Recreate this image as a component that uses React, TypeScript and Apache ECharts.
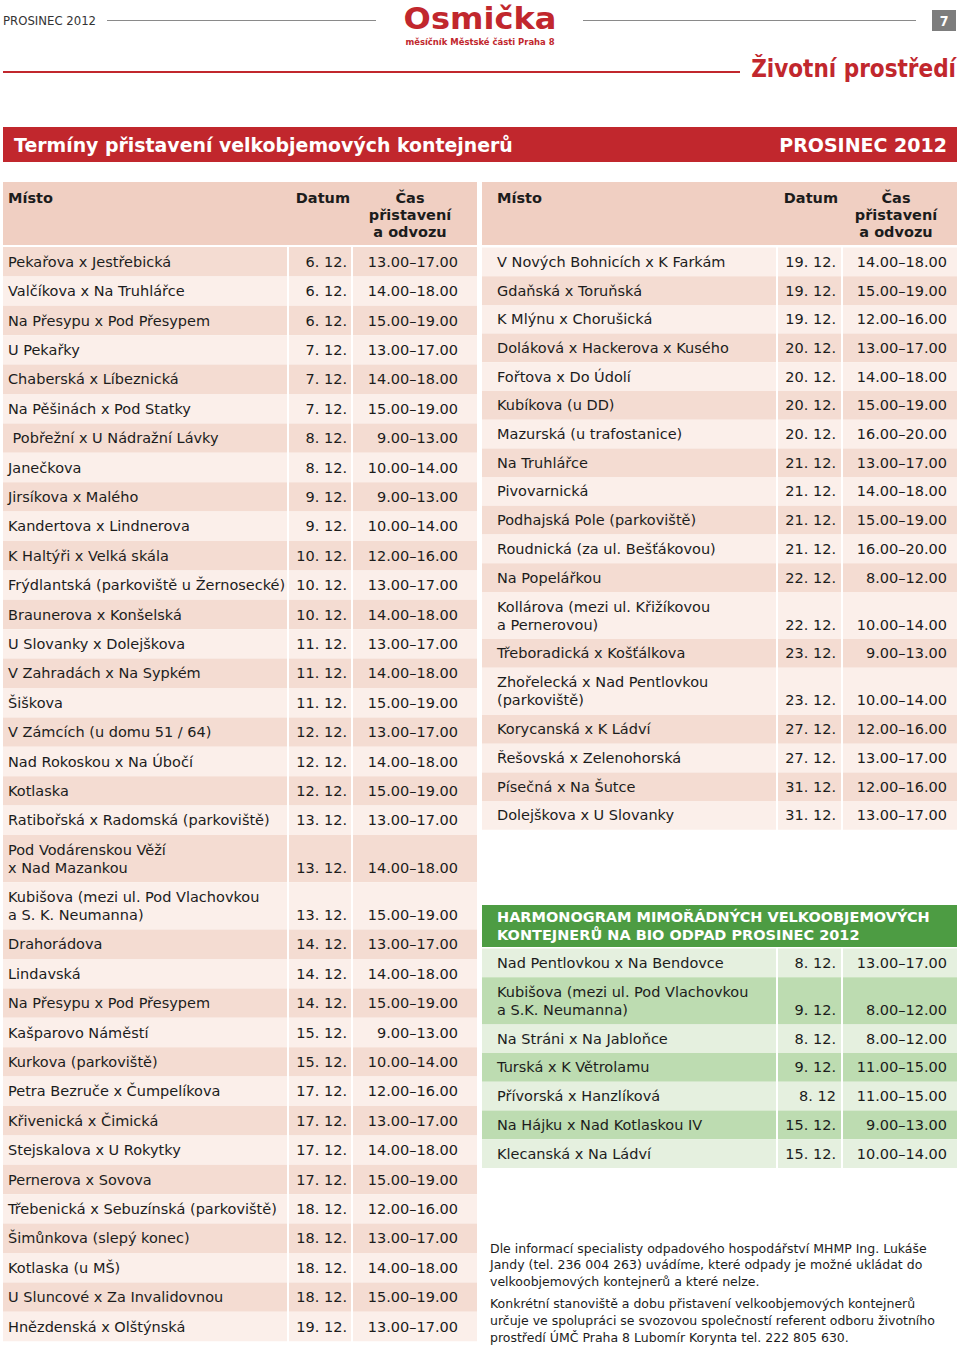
import React, { useEffect, useRef } from "react";
import * as echarts from "echarts";

// ---------- DATA ----------
const pageTitle = "Osmička";
const pageSubtitle = "měsíčník Městské části Praha 8";
const issueLabel = "PROSINEC 2012";
const pageNumber = "7";
const sectionTitle = "Životní prostředí";
const bannerTitle = "Termíny přistavení velkobjemových kontejnerů";
const bannerMonth = "PROSINEC 2012";
const headerPlace = "Místo";
const headerDate = "Datum";
const headerTime = "Čas\npřistavení\na odvozu";

const leftPlaces = [
  "Pekařova x Jestřebická",
  "Valčíkova x Na Truhlářce",
  "Na Přesypu x Pod Přesypem",
  "U Pekařky",
  "Chaberská x Líbeznická",
  "Na Pěšinách x Pod Statky",
  " Pobřežní x U Nádražní Lávky",
  "Janečkova",
  "Jirsíkova x Malého",
  "Kandertova x Lindnerova",
  "K Haltýři x Velká skála",
  "Frýdlantská (parkoviště u Žernosecké)",
  "Braunerova x Konšelská",
  "U Slovanky x Dolejškova",
  "V Zahradách x Na Sypkém",
  "Šiškova",
  "V Zámcích (u domu 51 / 64)",
  "Nad Rokoskou x Na Úbočí",
  "Kotlaska",
  "Ratibořská x Radomská (parkoviště)",
  "Pod Vodárenskou Věží\nx Nad Mazankou",
  "Kubišova (mezi ul. Pod Vlachovkou\na S. K. Neumanna)",
  "Drahorádova",
  "Lindavská",
  "Na Přesypu x Pod Přesypem",
  "Kašparovo Náměstí",
  "Kurkova (parkoviště)",
  "Petra Bezruče x Čumpelíkova",
  "Křivenická x Čimická",
  "Stejskalova x U Rokytky",
  "Pernerova x Sovova",
  "Třebenická x Sebuzínská (parkoviště)",
  "Šimůnkova (slepý konec)",
  "Kotlaska (u MŠ)",
  "U Sluncové x Za Invalidovnou",
  "Hnězdenská x Olštýnská",
];
const leftDates = [
  "6. 12.", "6. 12.", "6. 12.", "7. 12.", "7. 12.", "7. 12.", "8. 12.", "8. 12.",
  "9. 12.", "9. 12.", "10. 12.", "10. 12.", "10. 12.", "11. 12.", "11. 12.", "11. 12.",
  "12. 12.", "12. 12.", "12. 12.", "13. 12.", "13. 12.", "13. 12.", "14. 12.", "14. 12.",
  "14. 12.", "15. 12.", "15. 12.", "17. 12.", "17. 12.", "17. 12.", "17. 12.", "18. 12.",
  "18. 12.", "18. 12.", "18. 12.", "19. 12.",
];
const leftTimes = [
  "13.00–17.00", "14.00–18.00", "15.00–19.00", "13.00–17.00", "14.00–18.00", "15.00–19.00",
  "9.00–13.00", "10.00–14.00", "9.00–13.00", "10.00–14.00", "12.00–16.00", "13.00–17.00",
  "14.00–18.00", "13.00–17.00", "14.00–18.00", "15.00–19.00", "13.00–17.00", "14.00–18.00",
  "15.00–19.00", "13.00–17.00", "14.00–18.00", "15.00–19.00", "13.00–17.00", "14.00–18.00",
  "15.00–19.00", "9.00–13.00", "10.00–14.00", "12.00–16.00", "13.00–17.00", "14.00–18.00",
  "15.00–19.00", "12.00–16.00", "13.00–17.00", "14.00–18.00", "15.00–19.00", "13.00–17.00",
];

const rightPlaces = [
  "V Nových Bohnicích x K Farkám",
  "Gdaňská x Toruňská",
  "K Mlýnu x Chorušická",
  "Doláková x Hackerova x Kusého",
  "Fořtova x Do Údolí",
  "Kubíkova (u DD)",
  "Mazurská (u trafostanice)",
  "Na Truhlářce",
  "Pivovarnická",
  "Podhajská Pole (parkoviště)",
  "Roudnická (za ul. Bešťákovou)",
  "Na Popelářkou",
  "Kollárova (mezi ul. Křižíkovou\na Pernerovou)",
  "Třeboradická x Košťálkova",
  "Zhořelecká x Nad Pentlovkou\n(parkoviště)",
  "Korycanská x K Ládví",
  "Řešovská x Zelenohorská",
  "Písečná x Na Šutce",
  "Dolejškova x U Slovanky",
];
const rightDates = [
  "19. 12.", "19. 12.", "19. 12.", "20. 12.", "20. 12.", "20. 12.", "20. 12.", "21. 12.",
  "21. 12.", "21. 12.", "21. 12.", "22. 12.", "22. 12.", "23. 12.", "23. 12.", "27. 12.",
  "27. 12.", "31. 12.", "31. 12.",
];
const rightTimes = [
  "14.00–18.00", "15.00–19.00", "12.00–16.00", "13.00–17.00", "14.00–18.00", "15.00–19.00",
  "16.00–20.00", "13.00–17.00", "14.00–18.00", "15.00–19.00", "16.00–20.00", "8.00–12.00",
  "10.00–14.00", "9.00–13.00", "10.00–14.00", "12.00–16.00", "13.00–17.00", "12.00–16.00",
  "13.00–17.00",
];

const bioTitle = "HARMONOGRAM MIMOŘÁDNÝCH VELKOOBJEMOVÝCH\nKONTEJNERŮ NA BIO ODPAD PROSINEC 2012";
const bioPlaces = [
  "Nad Pentlovkou x Na Bendovce",
  "Kubišova (mezi ul. Pod Vlachovkou\na S.K. Neumanna)",
  "Na Stráni x Na Jabloňce",
  "Turská x K Větrolamu",
  "Přívorská x Hanzlíková",
  "Na Hájku x Nad Kotlaskou IV",
  "Klecanská x Na Ládví",
];
const bioDates = ["8. 12.", "9. 12.", "8. 12.", "9. 12.", "8. 12", "15. 12.", "15. 12."];
const bioTimes = [
  "13.00–17.00", "8.00–12.00", "8.00–12.00", "11.00–15.00", "11.00–15.00", "9.00–13.00", "10.00–14.00",
];

const noteParagraphs = [
  [
    "Dle informací specialisty odpadového hospodářství MHMP Ing. Lukáše",
    "Jandy (tel. 236 004 263) uvádíme, které odpady je možné ukládat do",
    "velkoobjemových kontejnerů a které nelze.",
  ],
  [
    "Konkrétní stanoviště a dobu přistavení velkoobjemových kontejnerů",
    "určuje ve spolupráci se svozovou společností referent odboru životního",
    "prostředí ÚMČ Praha 8 Lubomír Korynta tel. 222 805 630.",
  ],
];

// ---------- STYLE ----------
const RED = "#c1272d";
const SALMON_HEAD = "#f0cfc2";
const SALMON_DARK = "#f4dcd2";
const SALMON_LIGHT = "#fbefea";
const GREEN_HEAD = "#4d9c43";
const GREEN_DARK = "#bddcb1";
const GREEN_LIGHT = "#e5f0df";
const TXT = "#1c1c1c";
const FF = "'DejaVu Sans', Verdana, sans-serif";
const FFC = "'DejaVu Sans Condensed', 'DejaVu Sans', sans-serif";

function buildElements() {
  const el: any[] = [];
  const rect = (x: number, y: number, w: number, h: number, fill: string) =>
    el.push({ type: "rect", silent: true, shape: { x, y, width: w, height: h }, style: { fill } });
  const line = (x1: number, y1: number, x2: number, y2: number, stroke: string, lw: number) =>
    el.push({ type: "line", silent: true, shape: { x1, y1, x2, y2 }, style: { stroke, lineWidth: lw } });
  const text = (
    x: number, y: number, t: string, font: string, fill: string,
    align = "left", lineHeight?: number, extra: any = {}
  ) =>
    el.push({
      type: "text", silent: true, x, y,
      ...extra,
      style: {
        text: t, font, fill, textAlign: align, align,
        textVerticalAlign: "middle", verticalAlign: "middle",
        lineHeight: lineHeight,
      },
    });

  // ---- page header ----
  text(3, 20, issueLabel, `13px ${FFC}`, "#333");
  line(107, 20.5, 376, 20.5, "#8a8a8a", 1);
  line(583, 20.5, 916, 20.5, "#8a8a8a", 1);
  text(0, 0, pageTitle, `bold 30px ${FF}`, RED, "center", 30, {
    x: 480, y: 18, scaleX: 1.07, scaleY: 1,
  });
  text(480, 41.5, pageSubtitle, `bold 9.4px ${FFC}`, RED, "center", 10);
  rect(932, 10, 24, 21, "#7d7d7d");
  text(944, 21, pageNumber, `bold 14px ${FFC}`, "#fff", "center");
  line(3, 72, 740, 72, RED, 2);
  text(956, 69, sectionTitle, `bold 24px ${FFC}`, RED, "right");

  // ---- banner ----
  rect(3, 127, 954, 35, RED);
  text(14, 145, bannerTitle, `bold 18.9px ${FF}`, "#fff");
  text(947, 145, bannerMonth, `bold 19px ${FF}`, "#fff", "right");

  const bodyFont = `14.5px ${FF}`;
  const headFont = `bold 14.5px ${FF}`;

  type TableCfg = {
    cols: number[][];
    top: number;
    rowH: number;
    dblH: number;
    places: string[];
    dates: string[];
    times: string[];
    darkFirst: boolean;
    dark: string;
    light: string;
    placeX: number;
    dateRight: number;
    timeRight: number;
  };

  const drawRows = (c: TableCfg) => {
    let y = c.top;
    c.places.forEach((p, i) => {
      const dbl = p.includes("\n");
      const h = dbl ? c.dblH : c.rowH;
      const isDark = (i % 2 === 0) === c.darkFirst;
      const fill = isDark ? c.dark : c.light;
      c.cols.forEach(([x, w]) => rect(x, y, w, h, fill));
      const cy = y + h / 2;
      const label = p.replace(/^ /, "\u00a0");
      text(c.placeX, cy, label, bodyFont, TXT, "left", 18);
      const vy = dbl ? cy + 9 : cy;
      text(c.dateRight, vy, c.dates[i], bodyFont, TXT, "right");
      text(c.timeRight, vy, c.times[i], bodyFont, TXT, "right");
      y += h;
    });
  };

  // ---- left table ----
  rect(3, 182, 474, 63, SALMON_HEAD);
  text(8, 198, headerPlace, headFont, TXT);
  text(350, 198, headerDate, headFont, TXT, "right");
  text(410, 215, headerTime, headFont, TXT, "center", 17);
  drawRows({
    cols: [[3, 284], [289, 62], [353, 124]],
    top: 247, rowH: 29.4, dblH: 47.3,
    places: leftPlaces, dates: leftDates, times: leftTimes,
    darkFirst: true, dark: SALMON_DARK, light: SALMON_LIGHT,
    placeX: 8, dateRight: 347, timeRight: 458,
  });

  // ---- right table ----
  rect(482, 182, 475, 63, SALMON_HEAD);
  text(497, 198, headerPlace, headFont, TXT);
  text(838, 198, headerDate, headFont, TXT, "right");
  text(896, 215, headerTime, headFont, TXT, "center", 17);
  drawRows({
    cols: [[482, 294], [778, 63], [843, 114]],
    top: 247.5, rowH: 28.7, dblH: 47.2,
    places: rightPlaces, dates: rightDates, times: rightTimes,
    darkFirst: false, dark: SALMON_DARK, light: SALMON_LIGHT,
    placeX: 497, dateRight: 836, timeRight: 947,
  });

  // ---- bio table ----
  rect(482, 905, 475, 42, GREEN_HEAD);
  text(497, 926, bioTitle, `bold 14.5px ${FF}`, "#fff", "left", 18);
  drawRows({
    cols: [[482, 294], [778, 63], [843, 114]],
    top: 948.5, rowH: 28.7, dblH: 47.2,
    places: bioPlaces, dates: bioDates, times: bioTimes,
    darkFirst: false, dark: GREEN_DARK, light: GREEN_LIGHT,
    placeX: 497, dateRight: 836, timeRight: 947,
  });

  // ---- notes ----
  let ny = 1248;
  noteParagraphs.forEach((para, pi) => {
    para.forEach((ln) => {
      text(490, ny, ln, `12.5px ${FF}`, TXT);
      ny += 16.8;
    });
    if (pi === 0) ny += 5;
  });

  return el;
}

export default function App() {
  const ref = useRef<HTMLDivElement>(null);
  useEffect(() => {
    if (!ref.current) return;
    const chart = echarts.init(ref.current, null, { renderer: "svg" });
    chart.setOption({
      animation: false,
      backgroundColor: "#ffffff",
      graphic: { elements: buildElements() },
    });
    return () => chart.dispose();
  }, []);
  return (
    <div
      ref={ref}
      style={{ position: "absolute", left: 0, top: 0, width: 960, height: 1345, background: "#fff" }}
    />
  );
}
